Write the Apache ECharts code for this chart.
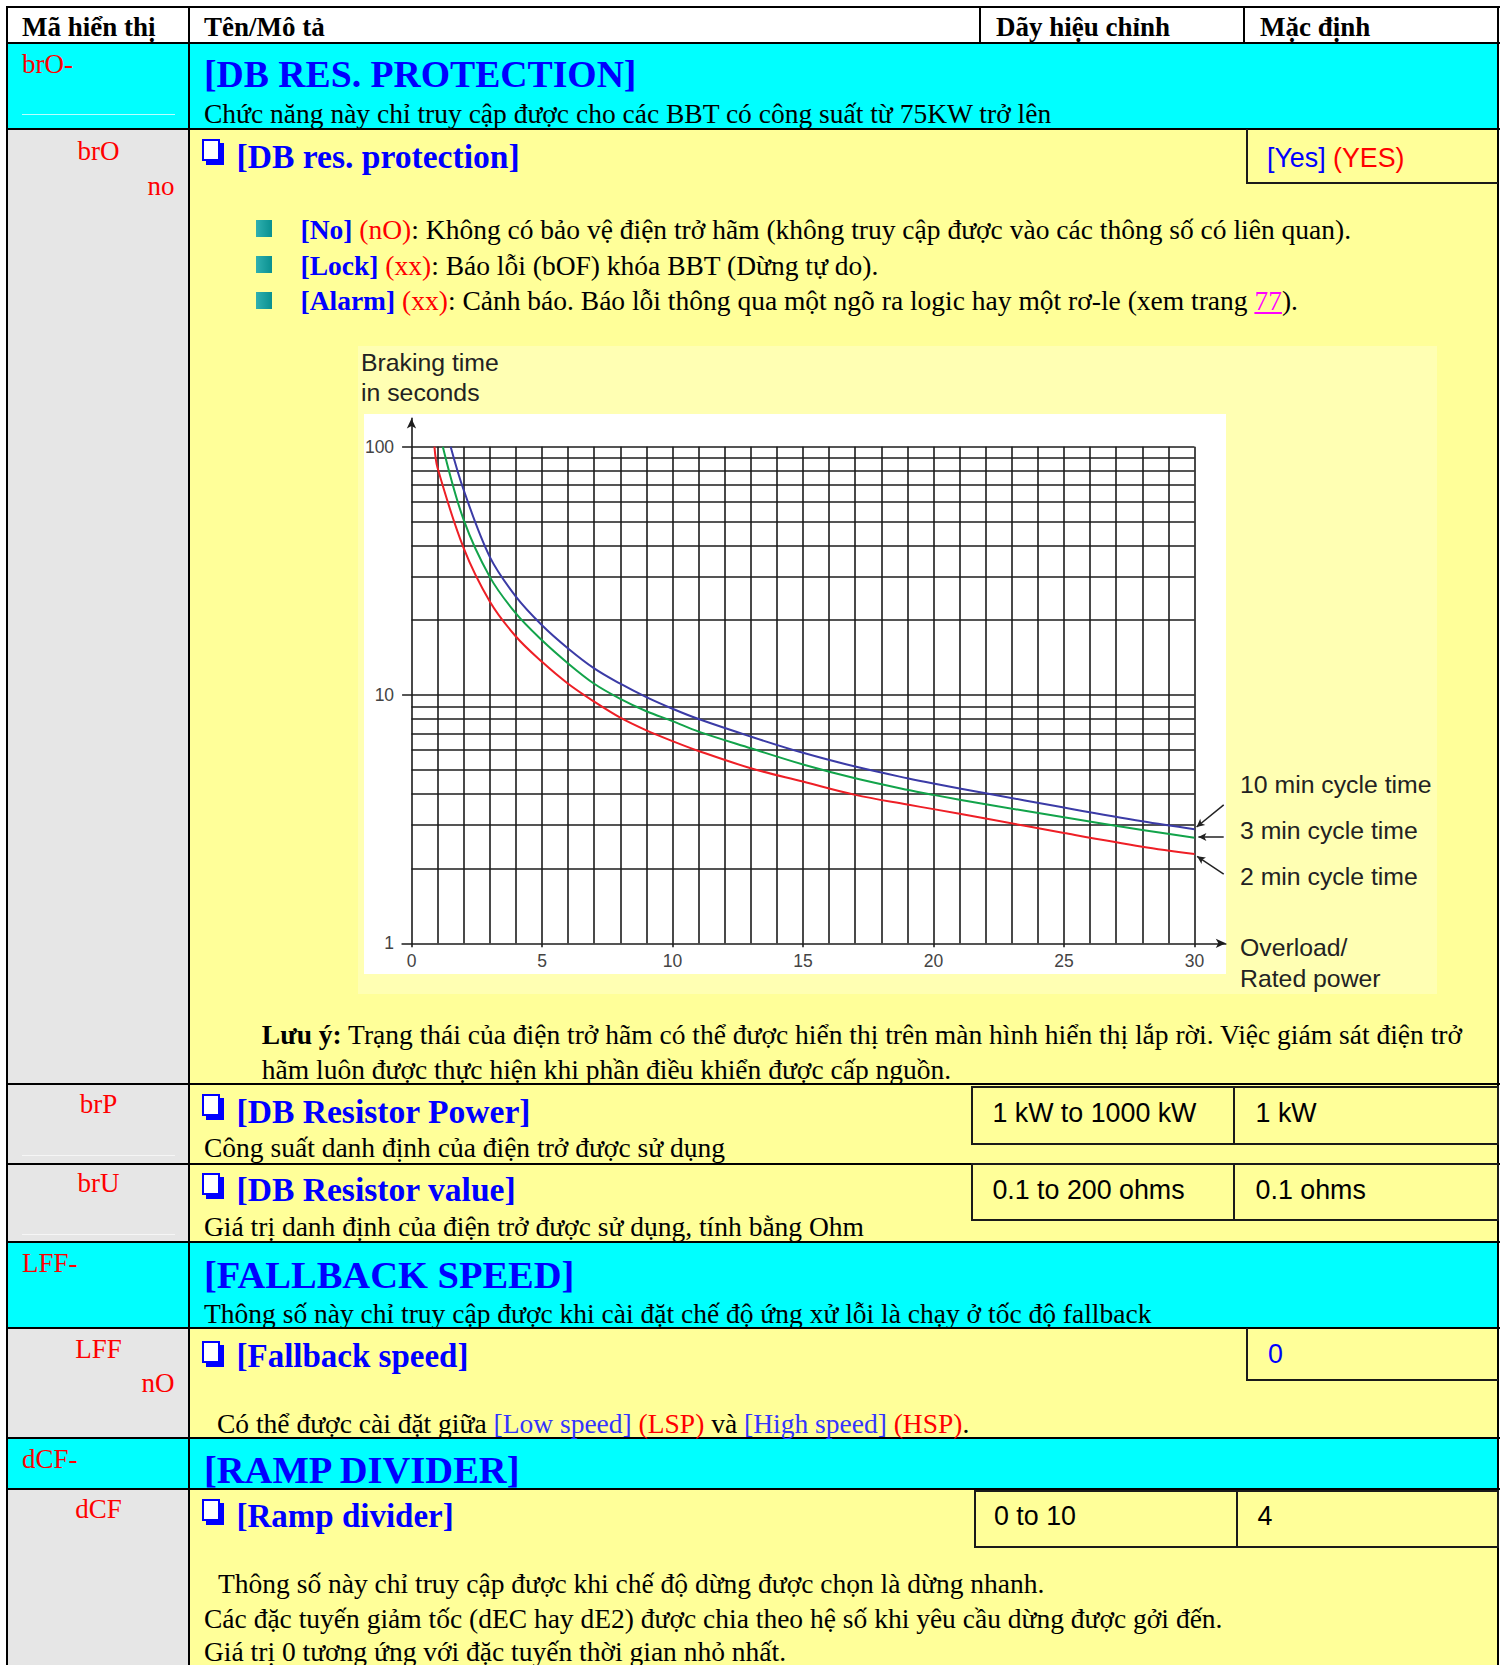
<!DOCTYPE html>
<html><head><meta charset="utf-8">
<script src="https://cdn.jsdelivr.net/npm/echarts@6/dist/echarts.min.js"></script>
<style>
html,body{margin:0;padding:0;}
body{width:1504px;height:1665px;position:relative;background:#fff;overflow:hidden;font-family:"Liberation Serif","Times New Roman",serif;}
.r{position:absolute;}
.s{position:absolute;white-space:nowrap;font-family:"Liberation Serif","Times New Roman",serif;font-size:27.5px;line-height:1.2;color:#000;}
.hd{font-size:27px;font-weight:bold;}
.b{font-weight:bold;}
.blue{color:#0000ff;}
.red{color:#ff0000;}
.h1{font-size:37.7px;font-weight:bold;color:#0000ff;}
.h2{font-size:33.6px;font-weight:bold;color:#0000ff;}
.ar{font-family:"Liberation Sans",Arial,sans-serif;font-size:26.8px;}
.code{width:100px;text-align:center;color:#ff0000;font-size:27px;}
.codeR{width:100px;text-align:right;color:#ff0000;font-size:27px;}
.codeL{color:#ff0000;font-size:27px;}
.hl{position:absolute;height:2px;background:#000;}
.vl{position:absolute;width:2px;background:#000;}
.box{position:absolute;box-sizing:border-box;border:2px solid #1a1a1a;}
.chk{position:absolute;width:14px;height:18px;border:2px solid #0000ff;background:#fff;box-shadow:4px 4px 0 #0000ff;}
.sq{position:absolute;width:16px;height:17px;background:linear-gradient(90deg,#2fb0b0,#0a9090);}
.cy{background:#00ffff;}
.ye{background:#ffff99;}
.gr{background:#e6e6e6;}
</style>
</head><body>
<!-- backgrounds -->
<div class="r cy" style="left:7px;top:43px;width:1491px;height:86px;"></div>
<div class="r gr" style="left:7px;top:129px;width:183px;height:1114px;"></div>
<div class="r ye" style="left:190px;top:129px;width:1308px;height:1114px;"></div>
<div class="r cy" style="left:7px;top:1242px;width:1491px;height:86px;"></div>
<div class="r gr" style="left:7px;top:1328px;width:183px;height:110px;"></div>
<div class="r ye" style="left:190px;top:1328px;width:1308px;height:110px;"></div>
<div class="r cy" style="left:7px;top:1438px;width:1491px;height:51px;"></div>
<div class="r gr" style="left:7px;top:1489px;width:183px;height:180px;"></div>
<div class="r ye" style="left:190px;top:1489px;width:1308px;height:180px;"></div>
<!-- faint lines in code cells -->
<div class="r" style="left:22px;top:114px;width:153px;height:1px;background:#b8ffff;"></div>
<div class="r" style="left:22px;top:1155px;width:153px;height:1px;background:#f6f6f6;"></div>
<div class="r" style="left:22px;top:1234px;width:153px;height:1px;background:#f6f6f6;"></div>

<!-- chart panel -->
<div class="r" style="left:358px;top:346px;width:1079px;height:648px;background:#ffffb3;"></div>
<div class="r" style="left:364px;top:414px;width:862px;height:560px;background:#ffffff;"></div>
<div id="chart" class="r" style="left:358px;top:346px;width:1079px;height:648px;"></div>

<!-- table lines -->
<div class="hl" style="left:6px;top:6px;width:1494px;"></div>
<div class="hl" style="left:6px;top:42px;width:1494px;"></div>
<div class="hl" style="left:6px;top:128px;width:1494px;"></div>
<div class="hl" style="left:6px;top:1083px;width:1494px;"></div>
<div class="hl" style="left:6px;top:1163px;width:1494px;"></div>
<div class="hl" style="left:6px;top:1241px;width:1494px;"></div>
<div class="hl" style="left:6px;top:1327px;width:1494px;"></div>
<div class="hl" style="left:6px;top:1437px;width:1494px;"></div>
<div class="hl" style="left:6px;top:1488px;width:1494px;"></div>
<div class="vl" style="left:6px;top:6px;height:1660px;"></div>
<div class="vl" style="left:188px;top:6px;height:1660px;"></div>
<div class="vl" style="left:1497px;top:6px;height:1660px;"></div>
<div class="vl" style="left:979px;top:6px;height:37px;"></div>
<div class="vl" style="left:1243px;top:6px;height:37px;"></div>

<!-- header -->
<div class="s hd" style="left:22px;top:11.4px;">Mã hiển thị</div>
<div class="s hd" style="left:204px;top:11.4px;">Tên/Mô tả</div>
<div class="s hd" style="left:996px;top:11.4px;">Dãy hiệu chỉnh</div>
<div class="s hd" style="left:1260px;top:11.4px;">Mặc định</div>

<!-- brO- -->
<div class="s codeL" style="left:22px;top:48px;">brO-</div>
<div class="s h1" style="left:204px;top:52.3px;">[DB RES. PROTECTION]</div>
<div class="s" style="left:204px;top:97.2px;">Chức năng này chỉ truy cập được cho các BBT có công suất từ 75KW trở lên</div>

<!-- brO -->
<div class="s code" style="left:48.6px;top:134.7px;">brO</div>
<div class="s codeR" style="left:74.5px;top:169.7px;">no</div>
<div class="chk" style="left:202px;top:139px;"></div>
<div class="s h2" style="left:236.5px;top:137px;">[DB res. protection]</div>
<div class="r" style="left:1246px;top:129px;width:2px;height:55px;background:#1a1a1a;"></div>
<div class="r" style="left:1246px;top:182px;height:2px;background:#1a1a1a;width:252px;"></div>
<div class="s ar" style="left:1267px;top:141.5px;"><span class="blue">[Yes]</span> <span class="red">(YES)</span></div>

<div class="sq" style="left:256px;top:220px;"></div>
<div class="sq" style="left:256px;top:255.5px;"></div>
<div class="sq" style="left:256px;top:292px;"></div>
<div class="s" style="left:300.5px;top:212.5px;"><span class="b blue">[No]</span> <span class="red">(nO)</span>: Không có bảo vệ điện trở hãm (không truy cập được vào các thông số có liên quan).</div>
<div class="s" style="left:300.5px;top:248.7px;"><span class="b blue">[Lock]</span> <span class="red">(xx)</span>: Báo lỗi (bOF) khóa BBT (Dừng tự do).</div>
<div class="s" style="left:300.5px;top:284.2px;"><span class="b blue">[Alarm]</span> <span class="red">(xx)</span>: Cảnh báo. Báo lỗi thông qua một ngõ ra logic hay một rơ-le (xem trang <span style="color:#ff00ff;text-decoration:underline;">77</span>).</div>

<div class="s" style="left:261.8px;top:1017.5px;"><b>Lưu ý:</b> Trạng thái của điện trở hãm có thể được hiển thị trên màn hình hiển thị lắp rời. Việc giám sát điện trở</div>
<div class="s" style="left:261.8px;top:1052.5px;">hãm luôn được thực hiện khi phần điều khiển được cấp nguồn.</div>

<!-- brP -->
<div class="s code" style="left:48.6px;top:1088px;">brP</div>
<div class="chk" style="left:202px;top:1094px;"></div>
<div class="s h2" style="left:236.5px;top:1091.5px;">[DB Resistor Power]</div>
<div class="s" style="left:204px;top:1131.4px;">Công suất danh định của điện trở được sử dụng</div>
<div class="box" style="left:971px;top:1086px;width:528px;height:59px;"></div>
<div class="vl" style="left:1233px;top:1086px;height:59px;background:#1a1a1a;"></div>
<div class="s ar" style="left:992.4px;top:1096.5px;">1 kW to 1000 kW</div>
<div class="s ar" style="left:1255.6px;top:1096.5px;">1 kW</div>

<!-- brU -->
<div class="s code" style="left:48.6px;top:1167.4px;">brU</div>
<div class="chk" style="left:202px;top:1173px;"></div>
<div class="s h2" style="left:236.5px;top:1170.2px;">[DB Resistor value]</div>
<div class="s" style="left:204px;top:1209.7px;">Giá trị danh định của điện trở được sử dụng, tính bằng Ohm</div>
<div class="box" style="left:971px;top:1163px;width:528px;height:58px;"></div>
<div class="vl" style="left:1233px;top:1163px;height:58px;background:#1a1a1a;"></div>
<div class="s ar" style="left:992.4px;top:1173.8px;">0.1 to 200 ohms</div>
<div class="s ar" style="left:1255.6px;top:1173.8px;">0.1 ohms</div>

<!-- LFF- -->
<div class="s codeL" style="left:22px;top:1247px;">LFF-</div>
<div class="s h1" style="left:204px;top:1251.7px;font-size:38.5px;">[FALLBACK SPEED]</div>
<div class="s" style="left:204px;top:1296.5px;">Thông số này chỉ truy cập được khi cài đặt chế độ ứng xử lỗi là chạy ở tốc độ fallback</div>

<!-- LFF -->
<div class="s code" style="left:48.6px;top:1333px;">LFF</div>
<div class="s codeR" style="left:74.5px;top:1367.4px;">nO</div>
<div class="chk" style="left:202px;top:1341px;"></div>
<div class="s h2" style="left:236.5px;top:1336.5px;font-size:33px;">[Fallback speed]</div>
<div class="r" style="left:1246px;top:1328px;width:2px;height:53px;background:#1a1a1a;"></div>
<div class="r" style="left:1246px;top:1379px;width:252px;height:2px;background:#1a1a1a;"></div>
<div class="s ar blue" style="left:1268px;top:1338px;">0</div>
<div class="s" style="left:217px;top:1406.5px;">Có thể được cài đặt giữa <span style="color:#3333ff;">[Low speed]</span> <span class="red">(LSP)</span> và <span style="color:#3333ff;">[High speed]</span> <span class="red">(HSP)</span>.</div>

<!-- dCF- -->
<div class="s codeL" style="left:22px;top:1443px;">dCF-</div>
<div class="s h1" style="left:204px;top:1446.7px;font-size:38.5px;">[RAMP DIVIDER]</div>

<!-- dCF -->
<div class="s code" style="left:48.6px;top:1493px;">dCF</div>
<div class="chk" style="left:202px;top:1499px;"></div>
<div class="s h2" style="left:236.5px;top:1496.5px;font-size:33px;">[Ramp divider]</div>
<div class="box" style="left:974px;top:1490px;width:525px;height:58px;"></div>
<div class="vl" style="left:1236px;top:1490px;height:58px;background:#1a1a1a;"></div>
<div class="s ar" style="left:994px;top:1500px;">0 to 10</div>
<div class="s ar" style="left:1257.5px;top:1500px;">4</div>
<div class="s" style="left:218px;top:1567px;">Thông số này chỉ truy cập được khi chế độ dừng được chọn là dừng nhanh.</div>
<div class="s" style="left:204px;top:1602px;">Các đặc tuyến giảm tốc (dEC hay dE2) được chia theo hệ số khi yêu cầu dừng được gởi đến.</div>
<div class="s" style="left:204px;top:1635.3px;">Giá trị 0 tương ứng với đặc tuyến thời gian nhỏ nhất.</div>

<script>
// ---- chart data ----
const overload2min = [0.88, 1, 2, 3, 4, 5, 6, 7, 8, 9, 10, 11, 13, 15, 17, 19, 20, 22, 25, 28, 30];
const braking2min  = [100, 82, 39, 23.8, 17.2, 13.6, 11.1, 9.4, 8.1, 7.2, 6.52, 5.95, 5.07, 4.48, 3.96, 3.62, 3.47, 3.18, 2.78, 2.45, 2.29];
const overload3min = [1.2, 2, 3, 4, 5, 6, 7, 8, 9, 10, 11, 13, 15, 17, 19, 20, 22, 25, 28, 30];
const braking3min  = [100, 50.7, 29.9, 21.3, 16.6, 13.4, 11.1, 9.65, 8.6, 7.85, 7.12, 6.1, 5.25, 4.62, 4.15, 3.96, 3.63, 3.22, 2.86, 2.66];
const overload10min = [1.5, 2, 3, 4, 5, 6, 7, 8, 9, 10, 11, 13, 15, 17, 19, 20, 22, 25, 28, 30];
const braking10min  = [100, 66.9, 36, 24.9, 19.1, 15.4, 12.8, 11.1, 9.8, 8.8, 8.0, 6.8, 5.85, 5.15, 4.62, 4.4, 4.02, 3.52, 3.1, 2.88];

// tick labels and grid values
const xTickLabels = [0, 5, 10, 15, 20, 25, 30];
const yTickLabels = [1, 10, 100];
const verticalGridX = [1, 2, 3, 4, 5, 6, 7, 8, 9, 10, 11, 12, 13, 14, 15, 16, 17, 18, 19, 20, 21, 22, 23, 24, 25, 26, 27, 28, 29, 30];
const logGridY = [2, 3, 4, 5, 6, 7, 8, 9, 10, 20, 30, 40, 50, 60, 70, 80, 90, 100];

// annotation texts
const curveNames = ['10 min cycle time', '3 min cycle time', '2 min cycle time'];
const yAxisTitle = ['Braking time', 'in seconds'];
const xAxisTitle = ['Overload/', 'Rated power'];

// leader lines (data coordinates: [overload, seconds])
const leader10 = [[31.12, 3.61], [30.08, 2.94]];
const leader3  = [[31.12, 2.68], [30.15, 2.68]];
const leader2  = [[31.12, 1.90], [30.10, 2.24]];

const X_MIN = -0.36, X_MAX = 31.2, Y_MIN = 1, Y_MAX = 130, X_GRID_END = 30, Y_GRID_END = 100;
const INK = '#1c1c1c';

function pairs(xs, ys) { return xs.map((x, i) => [x, ys[i]]); }

const gridLines = [];
logGridY.forEach(v => {
  const start = (yTickLabels.indexOf(v) >= 0) ? X_MIN : 0;
  gridLines.push([{coord: [start, v]}, {coord: [X_GRID_END, v]}]);
});
verticalGridX.forEach(x => gridLines.push([{coord: [x, Y_MIN]}, {coord: [x, Y_GRID_END]}]));

function leader(l) {
  return [{coord: l[0], symbol: 'none'}, {coord: l[1], symbol: 'arrow', symbolSize: [6, 8]}];
}

const chart = echarts.init(document.getElementById('chart'), null, {renderer: 'svg', width: 1079, height: 648});
const annFont = '24.8px "Liberation Sans", Arial, sans-serif';
function txt(t, x, y) {
  return {type: 'text', x: x, y: y, silent: true, style: {text: t, font: annFont, fill: '#222', verticalAlign: 'middle', align: 'left'}};
}
const lineCommon = {type: 'line', smooth: 0.35, showSymbol: false, symbol: 'none', z: 3};
chart.setOption({
  animation: false,
  backgroundColor: 'transparent',
  grid: {left: 44.1, top: 72.4, width: 823.7, height: 524.9, containLabel: false},
  xAxis: {
    type: 'value', min: X_MIN, max: X_MAX, splitNumber: 6,
    axisLine: {show: true, onZero: false, symbol: ['none', 'arrow'], symbolSize: [7, 10], lineStyle: {color: INK, width: 1.6}},
    axisTick: {show: true, length: 4, customValues: xTickLabels, lineStyle: {color: INK, width: 1.6}},
    splitLine: {show: false},
    axisLabel: {
      show: true, customValues: xTickLabels, margin: 9, color: '#444', fontSize: 17.5, fontFamily: 'Liberation Sans',
      formatter: v => (xTickLabels.indexOf(Math.round(v * 1000) / 1000) >= 0 ? String(Math.round(v)) : '')
    }
  },
  yAxis: {
    type: 'log', logBase: 10, min: Y_MIN, max: Y_MAX,
    axisLine: {show: true, onZero: true, symbol: ['none', 'arrow'], symbolSize: [7, 10], lineStyle: {color: INK, width: 1.6}},
    axisTick: {show: false},
    splitLine: {show: false},
    minorTick: {show: false}, minorSplitLine: {show: false},
    axisLabel: {
      show: true, margin: 8, color: '#444', fontSize: 17.5, fontFamily: 'Liberation Sans',
      formatter: v => { for (const t of yTickLabels) { if (Math.abs(t - v) < 1e-6 * t) return String(t); } return ''; }
    }
  },
  series: [
    Object.assign({}, lineCommon, {
      name: curveNames[2], data: pairs(overload2min, braking2min),
      lineStyle: {color: '#ee1f26', width: 2}, itemStyle: {color: '#ee1f26'},
      markLine: {silent: true, z: 1, symbol: ['none', 'none'], label: {show: false}, emphasis: {disabled: true},
        lineStyle: {color: INK, width: 1.6, type: 'solid'}, data: gridLines}
    }),
    Object.assign({}, lineCommon, {
      name: curveNames[1], data: pairs(overload3min, braking3min),
      lineStyle: {color: '#12a34a', width: 2}, itemStyle: {color: '#12a34a'},
      markLine: {silent: true, z: 4, symbol: ['none', 'arrow'], label: {show: false}, emphasis: {disabled: true},
        lineStyle: {color: '#222', width: 1.5, type: 'solid'}, data: [leader(leader10), leader(leader3), leader(leader2)]}
    }),
    Object.assign({}, lineCommon, {
      name: curveNames[0], data: pairs(overload10min, braking10min),
      lineStyle: {color: '#3b3ba6', width: 2}, itemStyle: {color: '#3b3ba6'}
    })
  ],
  graphic: [
    txt(yAxisTitle[0], 3, 16.5),
    txt(yAxisTitle[1], 3, 46.5),
    txt(curveNames[0], 882, 438),
    txt(curveNames[1], 882, 484.5),
    txt(curveNames[2], 882, 530),
    txt(xAxisTitle[0], 882, 601),
    txt(xAxisTitle[1], 882, 632)
  ]
});
</script>
</body></html>
